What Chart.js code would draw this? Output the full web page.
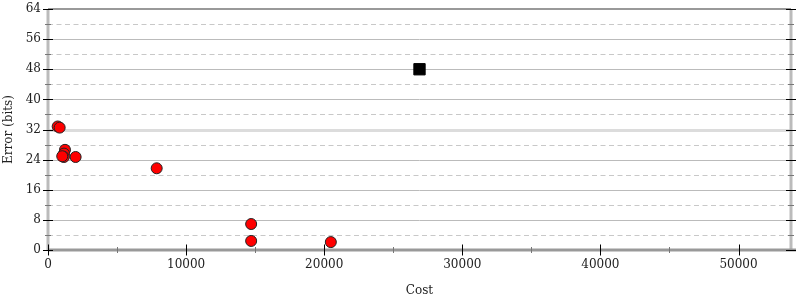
<!DOCTYPE html>
<html>
<head>
    <title>Error vs Cost</title>
    <script src="https://cdn.jsdelivr.net/npm/chart.js"></script>
    <style>
        body {
            margin: 0;
            background-color: #fff;
        }
        #wrap {
            width: 800px;
            height: 300px;
        }
    </style>
</head>
<body>
    <div id="wrap"><canvas id="myChart"></canvas></div>

    <script>
        // Runs: cost and error in bits
        const redCost  = [700, 845, 1230, 1160, 1150, 1030, 2000, 7870, 14710, 14710, 20480];
        const redError = [32.8, 32.5, 26.6, 25.6, 24.7, 24.9, 24.7, 21.7, 6.9, 2.4, 2.1];
        const blackCost  = [26900];
        const blackError = [48];

        // Axis ticks
        const xMax = 53800;
        const xTicks = [0, 5000, 10000, 15000, 20000, 25000, 30000, 35000, 40000, 45000, 50000];
        const xLabels = ['0', '', '10000', '', '20000', '', '30000', '', '40000', '', '50000'];
        const yMax = 64;
        const yTicks = [0, 4, 8, 12, 16, 20, 24, 28, 32, 36, 40, 44, 48, 52, 56, 60, 64];
        const yLabels = ['0', '', '8', '', '16', '', '24', '', '32', '', '40', '', '48', '', '56', '', '64'];
        const highlightError = 32;   // lighter, wider line

        const font = { family: 'DejaVu Serif', size: 12 };

        // draws grid, axis lines and tick marks from the scales
        const axesPlugin = {
            id: 'axesPlugin',
            beforeDatasetsDraw(chart) {
                const { ctx, chartArea: a, scales: { x, y } } = chart;
                ctx.save();

                // horizontal grid
                yTicks.forEach((v, i) => {
                    if (v === 0 || v === yMax) return;
                    const py = Math.round(y.getPixelForValue(v)) + 0.5;
                    ctx.beginPath();
                    if (yLabels[i] !== '') {
                        ctx.setLineDash([]);
                        if (v === highlightError) {
                            ctx.strokeStyle = '#dcdcdc';
                            ctx.lineWidth = 3;
                        } else {
                            ctx.strokeStyle = '#bbbbbb';
                            ctx.lineWidth = 1;
                        }
                    } else {
                        ctx.setLineDash([5, 3.5]);
                        ctx.strokeStyle = '#c8c8c8';
                        ctx.lineWidth = 1;
                    }
                    ctx.moveTo(a.left, py);
                    ctx.lineTo(a.right, py);
                    ctx.stroke();
                });
                ctx.setLineDash([]);

                // top line
                const top = y.getPixelForValue(yMax);
                ctx.strokeStyle = '#999999';
                ctx.lineWidth = 2;
                ctx.beginPath();
                ctx.moveTo(a.left, top);
                ctx.lineTo(a.right, top);
                ctx.stroke();

                // left / right axis lines
                ctx.strokeStyle = '#bbbbbb';
                ctx.lineWidth = 3;
                ctx.beginPath();
                ctx.moveTo(a.left, a.top);
                ctx.lineTo(a.left, a.bottom);
                ctx.moveTo(a.right, a.top);
                ctx.lineTo(a.right, a.bottom);
                ctx.stroke();

                // bottom axis line
                const bottom = y.getPixelForValue(0);
                ctx.strokeStyle = '#999999';
                ctx.lineWidth = 3;
                ctx.beginPath();
                ctx.moveTo(a.left, bottom);
                ctx.lineTo(a.right + 5, bottom);
                ctx.stroke();

                // y tick marks, both sides
                ctx.lineWidth = 1;
                yTicks.forEach((v, i) => {
                    const py = Math.round(y.getPixelForValue(v)) + 0.5;
                    const major = yLabels[i] !== '';
                    const len = major ? 5 : 3;
                    ctx.strokeStyle = major ? '#000000' : '#777777';
                    ctx.beginPath();
                    ctx.moveTo(a.left - len, py);
                    ctx.lineTo(a.left + len, py);
                    ctx.moveTo(a.right - len, py);
                    ctx.lineTo(a.right + len, py);
                    ctx.stroke();
                });

                // x tick marks
                xTicks.forEach((v, i) => {
                    const px = Math.round(x.getPixelForValue(v)) + 0.5;
                    const major = xLabels[i] !== '';
                    const len = major ? 5.5 : 3;
                    ctx.strokeStyle = major ? '#000000' : '#777777';
                    ctx.beginPath();
                    ctx.moveTo(px, bottom - len);
                    ctx.lineTo(px, bottom + len);
                    ctx.stroke();
                });

                ctx.restore();
            }
        };

        const ctx = document.getElementById('myChart').getContext('2d');
        const myChart = new Chart(ctx, {
            type: 'scatter',
            data: {
                datasets: [{
                    label: 'runs',
                    data: redCost.map((c, i) => ({ x: c, y: redError[i] })),
                    backgroundColor: '#ff0000',
                    borderColor: '#222222',
                    borderWidth: 1,
                    pointRadius: 5.5,
                    pointHoverRadius: 5.5
                }, {
                    label: 'reference',
                    data: blackCost.map((c, i) => ({ x: c, y: blackError[i] })),
                    pointStyle: 'rect',
                    backgroundColor: '#000000',
                    borderColor: '#000000',
                    borderWidth: 1,
                    pointRadius: 8,
                    pointHoverRadius: 8
                }]
            },
            options: {
                responsive: true,
                maintainAspectRatio: false,
                animation: false,
                layout: {
                    padding: { top: 7, right: 7, left: 0, bottom: 0 }
                },
                plugins: {
                    legend: { display: false },
                    tooltip: { enabled: false }
                },
                scales: {
                    x: {
                        type: 'linear',
                        min: 0,
                        max: xMax,
                        afterBuildTicks: scale => {
                            scale.ticks = xTicks.map(v => ({ value: v }));
                        },
                        afterFit: scale => {
                            scale.height = 50;
                            scale.paddingLeft = 0;
                            scale.paddingRight = 0;
                        },
                        grid: { display: false, drawTicks: false },
                        border: { display: false },
                        ticks: {
                            autoSkip: false,
                            maxRotation: 0,
                            minRotation: 0,
                            padding: 8,
                            color: '#222',
                            font: font,
                            callback: (v, i) => xLabels[i]
                        },
                        title: {
                            display: true,
                            text: 'Cost',
                            color: '#222',
                            font: font,
                            padding: { top: 0, bottom: 2 }
                        }
                    },
                    y: {
                        min: 0,
                        max: yMax,
                        afterBuildTicks: scale => {
                            scale.ticks = yTicks.map(v => ({ value: v }));
                        },
                        afterFit: scale => {
                            scale.width = 48;
                            scale.paddingTop = 0;
                            scale.paddingBottom = 0;
                        },
                        grid: { display: false, drawTicks: false },
                        border: { display: false },
                        ticks: {
                            autoSkip: false,
                            padding: 7,
                            color: '#222',
                            font: font,
                            callback: (v, i) => yLabels[i]
                        },
                        title: {
                            display: true,
                            text: 'Error (bits)',
                            color: '#222',
                            font: font,
                            padding: { top: 2, bottom: 0 }
                        }
                    }
                }
            },
            plugins: [axesPlugin]
        });
    </script>
</body>
</html>
